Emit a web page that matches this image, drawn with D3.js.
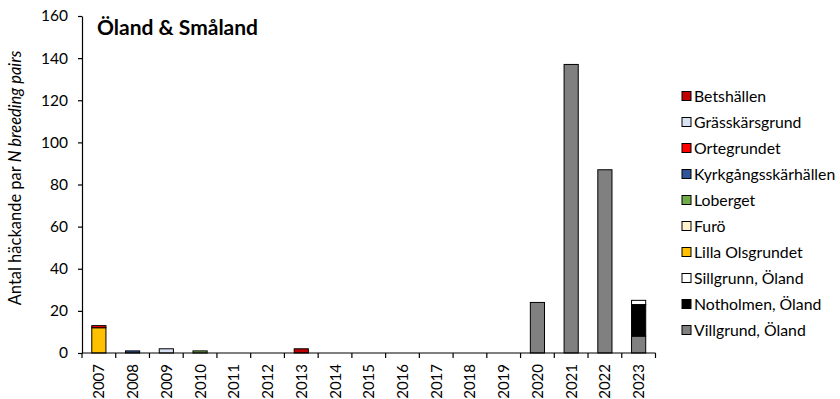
<!DOCTYPE html>
<html>
<head>
<meta charset="utf-8">
<script src="https://cdn.jsdelivr.net/npm/d3@7"></script>
<style>
  html, body { margin: 0; padding: 0; background: #fff; }
  svg { display: block; font-family: Lato, "Open Sans", sans-serif; }
</style>
</head>
<body>
<svg id="chart" width="840" height="399"></svg>
<script>
// Years on the x axis
const years = ["2007","2008","2009","2010","2011","2012","2013","2014","2015",
               "2016","2017","2018","2019","2020","2021","2022","2023"];

// Breeding pairs per colony, one array per series (stacked bottom to top)
const villgrund   = [0,0,0,0,0,0,0,0,0,0,0,0,0,24,137,87,8];
const notholmen   = [0,0,0,0,0,0,0,0,0,0,0,0,0,0,0,0,15];
const sillgrunn   = [0,0,0,0,0,0,0,0,0,0,0,0,0,0,0,0,2];
const lillaOls    = [12,0,0,0,0,0,0,0,0,0,0,0,0,0,0,0,0];
const furo        = [0,0,0,0,0,0,0,0,0,0,0,0,0,0,0,0,0];
const loberget    = [0,0,0,1,0,0,0,0,0,0,0,0,0,0,0,0,0];
const kyrkgang    = [0,1,0,0,0,0,0,0,0,0,0,0,0,0,0,0,0];
const ortegrundet = [1,0,0,0,0,0,0,0,0,0,0,0,0,0,0,0,0];
const grasskars   = [0,0,2,0,0,0,0,0,0,0,0,0,0,0,0,0,0];
const betshallen  = [0,0,0,0,0,0,2,0,0,0,0,0,0,0,0,0,0];

const yTicks = [0,20,40,60,80,100,120,140,160];

const series = [
  {name: "Villgrund, Öland",     values: villgrund,   color: "#808080"},
  {name: "Notholmen, Öland",     values: notholmen,   color: "#000000"},
  {name: "Sillgrunn, Öland",     values: sillgrunn,   color: "#ffffff"},
  {name: "Lilla Olsgrundet",     values: lillaOls,    color: "#ffc000"},
  {name: "Furö",                 values: furo,        color: "#fff2cc"},
  {name: "Loberget",             values: loberget,    color: "#70ad47"},
  {name: "Kyrkgångsskärhällen",  values: kyrkgang,    color: "#2f5597"},
  {name: "Ortegrundet",          values: ortegrundet, color: "#ff0000"},
  {name: "Grässkärsgrund",       values: grasskars,   color: "#dae3f3"},
  {name: "Betshällen",           values: betshallen,  color: "#c00000"}
];

const svg = d3.select("#chart");
const plot = {left: 82, right: 655.5, top: 16, bottom: 353};

const x = d3.scaleBand().domain(years).range([plot.left, plot.right]).paddingInner(0.58).paddingOuter(0.29);
const xBand = d3.scaleBand().domain(years).range([plot.left, plot.right]);
const y = d3.scaleLinear().domain([0,160]).range([plot.bottom, plot.top]);

// Stack the colonies per year
const table = years.map((yr, i) => {
  const row = {year: yr};
  series.forEach(s => row[s.name] = s.values[i]);
  return row;
});
const stacked = d3.stack().keys(series.map(s => s.name))(table);

const g = svg.append("g");
stacked.forEach((layer, li) => {
  g.append("g")
    .attr("fill", series[li].color)
    .selectAll("rect")
    .data(layer.filter(d => d[1] - d[0] > 0))
    .join("rect")
    .attr("x", d => x(d.data.year))
    .attr("width", x.bandwidth())
    .attr("y", d => y(d[1]))
    .attr("height", d => y(d[0]) - y(d[1]))
    .attr("stroke", "#000")
    .attr("stroke-width", 1);
});

// Y axis
const yAxis = svg.append("g")
  .attr("transform", `translate(${plot.left},0)`)
  .call(d3.axisLeft(y).tickValues(yTicks).tickSize(4).tickPadding(10).tickSizeOuter(0));
yAxis.select(".domain").attr("stroke", "#000").attr("stroke-width", 1.2);
yAxis.selectAll(".tick line").attr("stroke", "#000").attr("stroke-width", 1.2);
yAxis.selectAll("text").attr("font-size", 15.5).attr("fill", "#000").attr("font-family", "Lato");

// X axis: ticks on the year boundaries
const xAxisG = svg.append("g").attr("transform", `translate(0,${plot.bottom})`);
xAxisG.append("line")
  .attr("x1", plot.left).attr("x2", plot.right)
  .attr("stroke", "#000").attr("stroke-width", 1.2);
const bounds = years.map(yr => xBand(yr)).concat([plot.right]);
xAxisG.selectAll("line.tk").data(bounds).join("line")
  .attr("class", "tk")
  .attr("x1", d => d).attr("x2", d => d)
  .attr("y1", 0).attr("y2", 5)
  .attr("stroke", "#000").attr("stroke-width", 1.2);
xAxisG.selectAll("text").data(years).join("text")
  .attr("transform", d => `translate(${xBand(d) + xBand.bandwidth()/2 + 5.5},11) rotate(-90)`)
  .attr("text-anchor", "end")
  .attr("font-size", 15)
  .text(d => d);

// Title
svg.append("text")
  .attr("x", 97).attr("y", 35)
  .attr("font-size", 21).attr("font-weight", "bold")
  .text("Öland & Småland");

// Y axis label
const yl = svg.append("text")
  .attr("transform", "translate(21,178) rotate(-90)")
  .attr("text-anchor", "middle")
  .attr("font-size", 16.5);
yl.append("tspan").text("Antal häckande par  ");
yl.append("tspan").attr("font-style", "italic").text("N breeding pairs");

// Legend, listed top to bottom in reverse stacking order
const legendItems = series.slice().reverse();
const lg = svg.append("g").attr("transform", "translate(682,96)");
const li = lg.selectAll("g").data(legendItems).join("g")
  .attr("transform", (d, i) => `translate(0,${i * 26})`);
li.append("rect")
  .attr("x", 0).attr("y", -4.5).attr("width", 9).attr("height", 9)
  .attr("fill", d => d.color).attr("stroke", "#000").attr("stroke-width", 1);
li.append("text")
  .attr("x", 12).attr("y", 5.5)
  .attr("font-size", 15.8)
  .text(d => d.name);
</script>
</body>
</html>
